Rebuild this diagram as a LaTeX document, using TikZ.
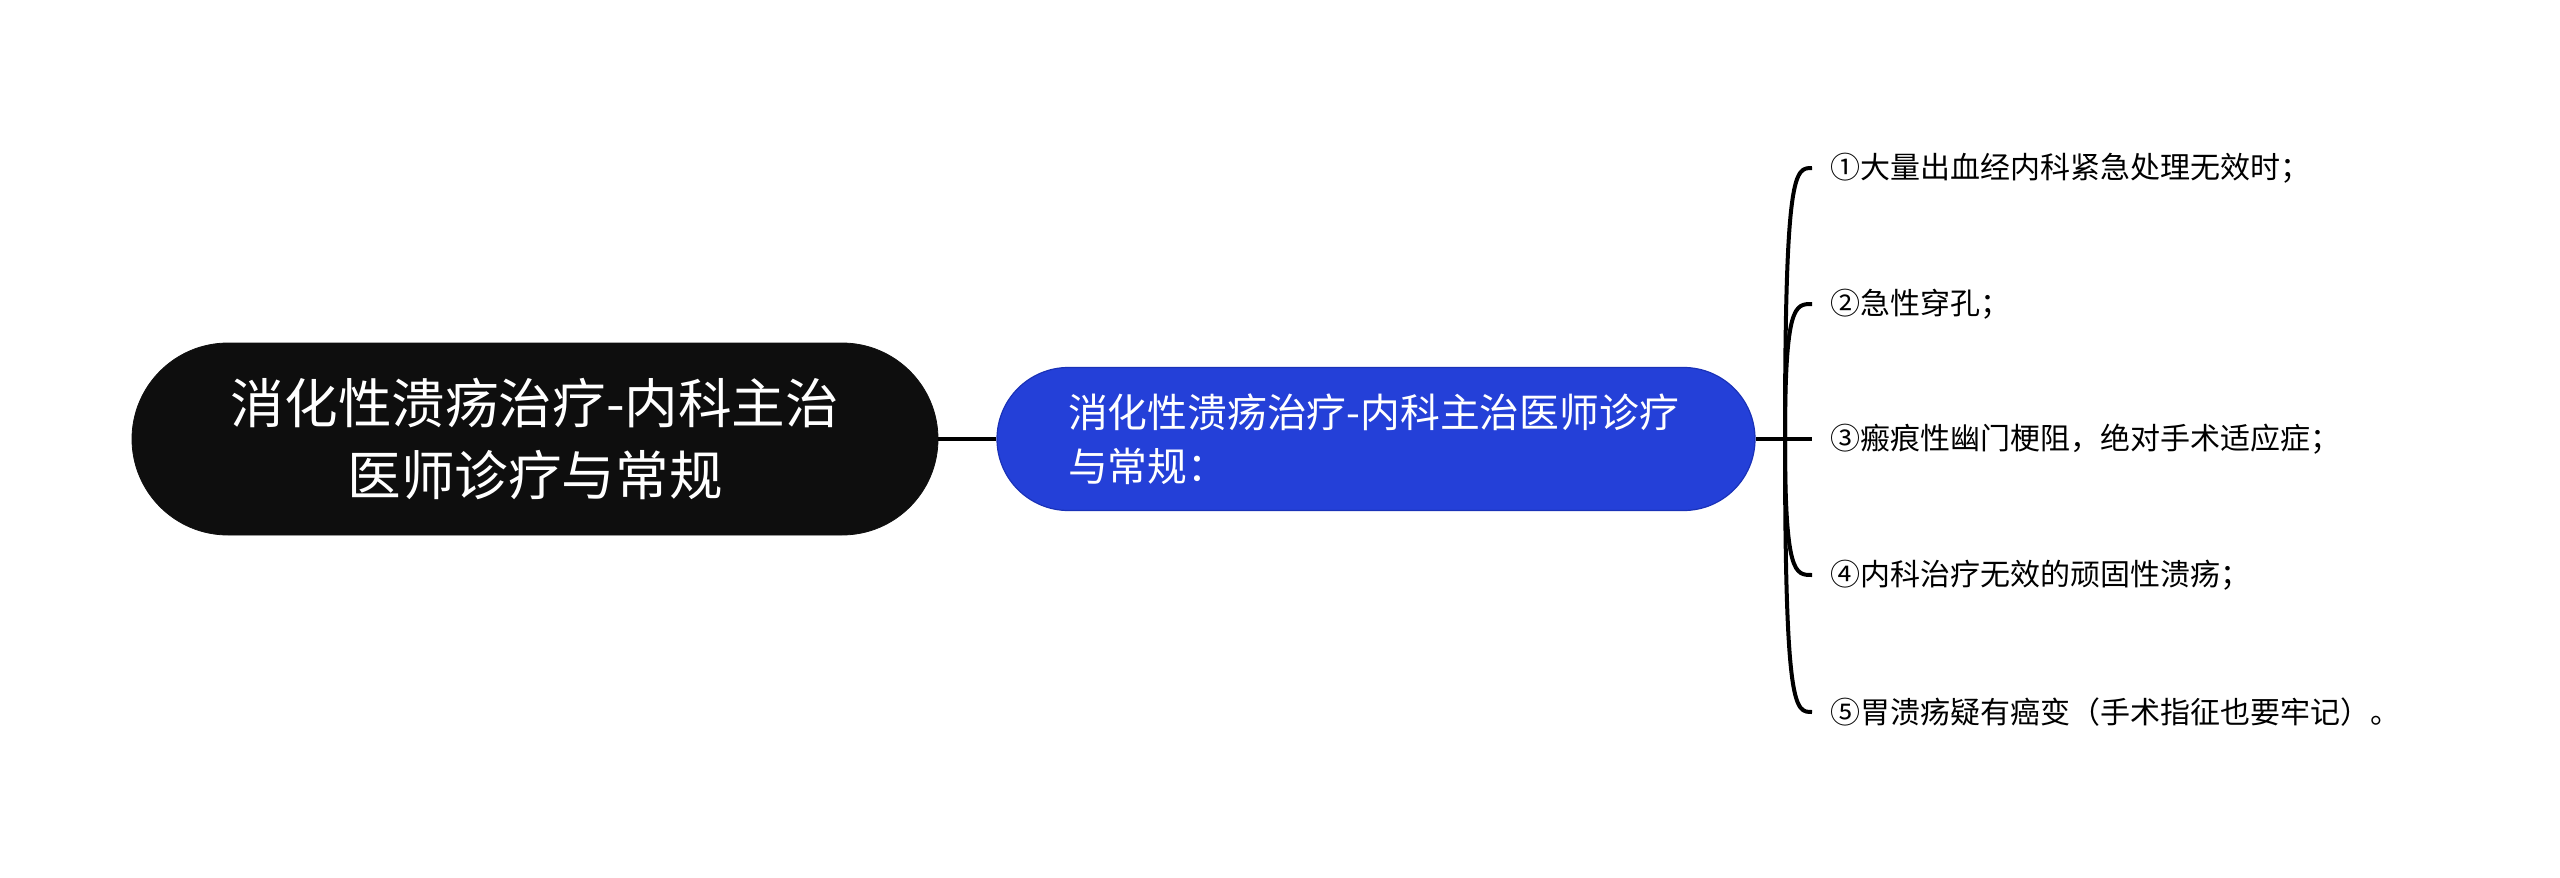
\documentclass[tikz,border=0pt]{standalone}
\usepackage{fontspec}
\setmainfont{Noto Sans CJK SC}
\usetikzlibrary{calc}
\definecolor{rootfill}{HTML}{0E0E0E}
\definecolor{mainfill}{HTML}{2440D8}
\definecolor{mainedge}{HTML}{1A32B8}
\tikzset{
  rootbox/.style={draw=rootfill, fill=rootfill, text=white, rounded corners=48pt,
    minimum width=403pt, minimum height=96pt, inner sep=0pt, align=center,
    font=\fontsize{26.8pt}{36pt}\selectfont},
  mainbox/.style={draw=mainedge, line width=0.6pt, fill=mainfill, text=white, rounded corners=35.75pt,
    minimum width=379pt, minimum height=71.5pt, inner sep=0pt, align=left, text width=308pt,
    font=\fontsize{19.9pt}{27pt}\selectfont},
  itemtext/.style={anchor=west, inner sep=0pt, font=\fontsize{15pt}{17pt}\selectfont},
  link/.style={line width=2pt, black},
}
\begin{document}
\begin{tikzpicture}[x=0.5pt,y=-0.5pt]
\useasboundingbox (0,0) rectangle (2560,878);
\node[rootbox] (root) at (535,439) {消化性溃疡治疗-内科主治\\医师诊疗与常规};
\node[mainbox] (main) at (1376,439) {消化性溃疡治疗-内科主治医师诊疗\\与常规：};
\node[itemtext] (i1) at (1830,168) {①大量出血经内科紧急处理无效时；};
\node[itemtext] (i2) at (1830,304) {②急性穿孔；};
\node[itemtext] (i3) at (1830,439) {③瘢痕性幽门梗阻，绝对手术适应症；};
\node[itemtext] (i4) at (1830,575) {④内科治疗无效的顽固性溃疡；};
\node[itemtext] (i5) at (1830,712) {⑤胃溃疡疑有癌变（手术指征也要牢记）。};
\coordinate (fork) at (1785,439);
\draw[link] (root.east) -- (main.west);
\draw[link] (main.east) -- ($(i3.west)+(-18,0)$);
\foreach \n in {i1,i2,i4,i5}{
  \draw[link] (fork) .. controls ($(fork|-\n.west)$) and ($(fork|-\n.west)+(10,0)$) .. ($(\n.west)+(-18,0)$);
}
\end{tikzpicture}
\end{document}
